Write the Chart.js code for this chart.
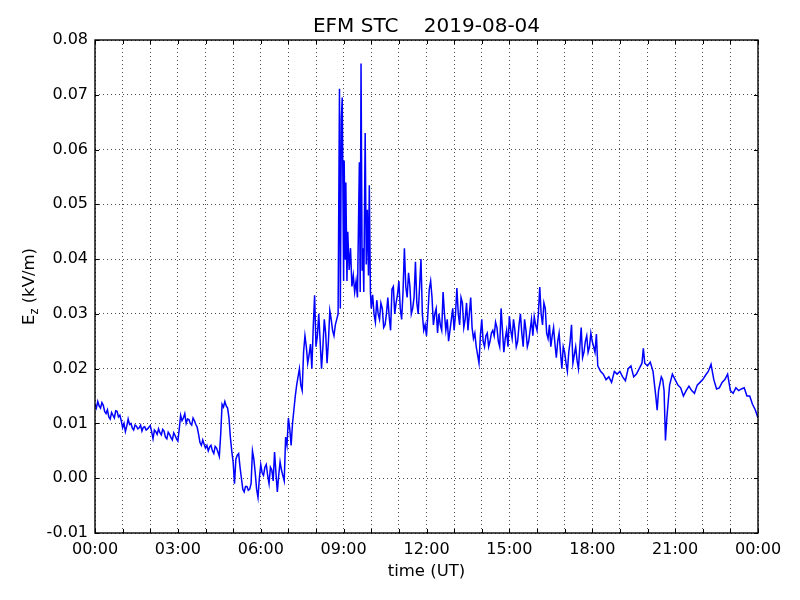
<!DOCTYPE html>
<html>
<head>
<meta charset="utf-8">
<script src="https://cdn.jsdelivr.net/npm/chart.js@4.4.0/dist/chart.umd.min.js"></script>
<style>
    html, body { margin: 0; padding: 0; background: #fff; }
</style>
</head>
<body>
<canvas id="grafico" width="800" height="600"></canvas>
<script>
// Dados (hora UT, Ez em kV/m), uma linha por hora
const horas = [
    0.0, 0.05, 0.1, 0.15, 0.2, 0.25, 0.3, 0.35, 0.4, 0.45, 0.5, 0.55, 0.6, 0.65, 0.7, 0.75, 0.8, 0.85, 0.9, 0.95,
    1.0, 1.05, 1.1, 1.15, 1.2, 1.25, 1.3, 1.35, 1.4, 1.45, 1.5, 1.55, 1.6, 1.65, 1.7, 1.75, 1.8, 1.85, 1.9, 1.95,
    2.0, 2.05, 2.1, 2.15, 2.2, 2.25, 2.3, 2.35, 2.4, 2.45, 2.5, 2.55, 2.6, 2.65, 2.7, 2.75, 2.8, 2.85, 2.9, 2.95,
    3.0, 3.05, 3.1, 3.15, 3.2, 3.25, 3.3, 3.35, 3.4, 3.45, 3.5, 3.55, 3.6, 3.65, 3.7, 3.75, 3.8, 3.85, 3.9, 3.95,
    4.0, 4.05, 4.1, 4.15, 4.2, 4.25, 4.3, 4.35, 4.4, 4.45, 4.5, 4.55, 4.6, 4.65, 4.7, 4.75, 4.8, 4.85, 4.9, 4.95,
    5.0, 5.05, 5.1, 5.15, 5.2, 5.25, 5.3, 5.35, 5.4, 5.45, 5.5, 5.55, 5.6, 5.65, 5.7, 5.75, 5.8, 5.85, 5.9, 5.95,
    6.0, 6.05, 6.1, 6.15, 6.2, 6.25, 6.3, 6.35, 6.4, 6.45, 6.5, 6.55, 6.6, 6.65, 6.7, 6.75, 6.8, 6.85, 6.9, 6.95,
    7.0, 7.05, 7.1, 7.15, 7.2, 7.25, 7.3, 7.35, 7.4, 7.45, 7.5, 7.55, 7.6, 7.65, 7.7, 7.75, 7.8, 7.85, 7.9, 7.95,
    8.0, 8.05, 8.1, 8.15, 8.2, 8.25, 8.3, 8.35, 8.4, 8.45, 8.5, 8.55, 8.6, 8.65, 8.7, 8.75, 8.8, 8.85, 8.88, 8.92, 8.95,
    9.0, 9.02, 9.06, 9.08, 9.12, 9.15, 9.2, 9.25, 9.3, 9.35, 9.4, 9.45, 9.5, 9.57, 9.6, 9.63, 9.67, 9.7, 9.73, 9.78, 9.82, 9.86, 9.9, 9.93, 9.97,
    10.0, 10.05, 10.1, 10.15, 10.2, 10.25, 10.3, 10.35, 10.4, 10.45, 10.5, 10.55, 10.6, 10.65, 10.7, 10.75, 10.8, 10.85, 10.9, 10.95,
    11.0, 11.05, 11.1, 11.15, 11.2, 11.25, 11.3, 11.35, 11.4, 11.45, 11.5, 11.55, 11.6, 11.65, 11.7, 11.75, 11.8, 11.85, 11.9, 11.95,
    12.0, 12.05, 12.1, 12.15, 12.2, 12.25, 12.3, 12.35, 12.4, 12.45, 12.5, 12.55, 12.6, 12.65, 12.7, 12.75, 12.8, 12.85, 12.9, 12.95,
    13.0, 13.05, 13.1, 13.15, 13.2, 13.25, 13.3, 13.35, 13.4, 13.45, 13.5, 13.55, 13.6, 13.65, 13.7, 13.75, 13.8, 13.85, 13.9, 13.95,
    14.0, 14.05, 14.1, 14.15, 14.2, 14.25, 14.3, 14.35, 14.4, 14.45, 14.5, 14.55, 14.6, 14.65, 14.7, 14.75, 14.8, 14.85, 14.9, 14.95,
    15.0, 15.05, 15.1, 15.15, 15.2, 15.25, 15.3, 15.35, 15.4, 15.45, 15.5, 15.55, 15.6, 15.65, 15.7, 15.75, 15.8, 15.85, 15.9, 15.95,
    16.0, 16.05, 16.1, 16.15, 16.2, 16.25, 16.3, 16.35, 16.4, 16.45, 16.5, 16.55, 16.6, 16.65, 16.7, 16.75, 16.8, 16.85, 16.9, 16.95,
    17.0, 17.05, 17.1, 17.15, 17.2, 17.25, 17.3, 17.35, 17.4, 17.45, 17.5, 17.55, 17.6, 17.65, 17.7, 17.75, 17.8, 17.85, 17.9, 17.95,
    18.0, 18.1, 18.15, 18.2, 18.3, 18.4, 18.5, 18.6, 18.7, 18.8, 18.9,
    19.0, 19.1, 19.2, 19.3, 19.4, 19.5, 19.6, 19.7, 19.8, 19.85, 19.9,
    20.0, 20.1, 20.2, 20.3, 20.35, 20.4, 20.5, 20.55, 20.6, 20.65, 20.7, 20.8, 20.9,
    21.0, 21.1, 21.2, 21.3, 21.4, 21.5, 21.6, 21.7, 21.8, 21.9,
    22.0, 22.1, 22.2, 22.3, 22.4, 22.5, 22.6, 22.7, 22.8, 22.9,
    23.0, 23.1, 23.2, 23.3, 23.4, 23.5, 23.6, 23.7, 23.8, 23.9, 24.0
];

const ez = [
    0.0135, 0.0128, 0.0140, 0.0132, 0.0128, 0.0138, 0.0133, 0.0122, 0.0118, 0.0125, 0.0112, 0.0108, 0.0120, 0.0115, 0.0110, 0.0123, 0.0122, 0.0112, 0.0115, 0.0105,
    0.0092, 0.0100, 0.0085, 0.0095, 0.0108, 0.0098, 0.0100, 0.0092, 0.0088, 0.0097, 0.0095, 0.0090, 0.0092, 0.0097, 0.0086, 0.0093, 0.0094, 0.0088, 0.0090, 0.0093,
    0.0096, 0.0085, 0.0072, 0.0088, 0.0085, 0.0080, 0.0090, 0.0083, 0.0079, 0.0089, 0.0086, 0.0075, 0.0072, 0.0084, 0.0080, 0.0074, 0.0070, 0.0083, 0.0078, 0.0072,
    0.0068, 0.0090, 0.0115, 0.0105, 0.0110, 0.0118, 0.0100, 0.0108, 0.0107, 0.0100, 0.0097, 0.0110, 0.0105, 0.0098, 0.0093, 0.0080, 0.0065, 0.0060, 0.0070, 0.0062,
    0.0055, 0.0060, 0.0050, 0.0057, 0.0060, 0.0050, 0.0045, 0.0058, 0.0055, 0.0048, 0.0040, 0.0080, 0.0135, 0.0130, 0.0140, 0.0132, 0.0128, 0.0110, 0.0075, 0.0050,
    0.0030, -0.0010, 0.0035, 0.0042, 0.0045, 0.0020, 0.0000, -0.0020, -0.0025, -0.0015, -0.0015, -0.0022, -0.0020, -0.0010, 0.0050, 0.0035, 0.0010, -0.0020, -0.0035, 0.0000,
    0.0025, 0.0010, 0.0005, 0.0020, 0.0025, 0.0005, -0.0010, 0.0020, 0.0015, -0.0005, 0.0048, 0.0010, -0.0025, 0.0005, 0.0030, 0.0015, 0.0005, -0.0005, 0.0075, 0.0060,
    0.0110, 0.0090, 0.0060, 0.0100, 0.0125, 0.0150, 0.0170, 0.0185, 0.0200, 0.0170, 0.0160, 0.0230, 0.0260, 0.0240, 0.0210, 0.0225, 0.0245, 0.0200, 0.0276, 0.0334,
    0.0240, 0.0260, 0.0300, 0.0250, 0.0200, 0.0240, 0.0290, 0.0265, 0.0210, 0.0250, 0.0306, 0.0290, 0.0270, 0.0260, 0.0280, 0.0290, 0.0300, 0.0711, 0.0310, 0.0660, 0.0695,
    0.0360, 0.0580, 0.0400, 0.0540, 0.0360, 0.0450, 0.0380, 0.0420, 0.0350, 0.0370, 0.0340, 0.0360, 0.0330, 0.0577, 0.0340, 0.0757, 0.0380, 0.0420, 0.0340, 0.0630, 0.0390, 0.0490, 0.0370, 0.0535, 0.0340,
    0.0310, 0.0335, 0.0300, 0.0285, 0.0325, 0.0300, 0.0290, 0.0320, 0.0310, 0.0275, 0.0280, 0.0300, 0.0330, 0.0295, 0.0270, 0.0345, 0.0350, 0.0300, 0.0320, 0.0335,
    0.0360, 0.0310, 0.0290, 0.0340, 0.0420, 0.0350, 0.0330, 0.0375, 0.0350, 0.0300, 0.0310, 0.0330, 0.0395, 0.0320, 0.0300, 0.0350, 0.0400, 0.0300, 0.0270, 0.0280,
    0.0260, 0.0300, 0.0345, 0.0360, 0.0330, 0.0280, 0.0300, 0.0310, 0.0265, 0.0300, 0.0280, 0.0270, 0.0340, 0.0300, 0.0270, 0.0290, 0.0250, 0.0270, 0.0290, 0.0310,
    0.0270, 0.0300, 0.0347, 0.0300, 0.0280, 0.0330, 0.0320, 0.0275, 0.0290, 0.0320, 0.0270, 0.0300, 0.0330, 0.0275, 0.0255, 0.0265, 0.0240, 0.0225, 0.0210, 0.0260,
    0.0290, 0.0250, 0.0240, 0.0260, 0.0265, 0.0240, 0.0250, 0.0265, 0.0270, 0.0260, 0.0285, 0.0275, 0.0250, 0.0240, 0.0310, 0.0270, 0.0230, 0.0255, 0.0270, 0.0240,
    0.0296, 0.0270, 0.0255, 0.0290, 0.0270, 0.0240, 0.0250, 0.0280, 0.0300, 0.0265, 0.0240, 0.0290, 0.0270, 0.0240, 0.0250, 0.0270, 0.0290, 0.0260, 0.0295, 0.0280,
    0.0270, 0.0300, 0.0349, 0.0300, 0.0280, 0.0320, 0.0310, 0.0265, 0.0255, 0.0280, 0.0240, 0.0260, 0.0275, 0.0245, 0.0220, 0.0250, 0.0265, 0.0230, 0.0200, 0.0240,
    0.0230, 0.0210, 0.0195, 0.0230, 0.0250, 0.0280, 0.0210, 0.0225, 0.0240, 0.0215, 0.0200, 0.0240, 0.0275, 0.0220, 0.0230, 0.0250, 0.0260, 0.0230, 0.0240, 0.0265,
    0.0250, 0.0230, 0.0263, 0.0205, 0.0195, 0.0190, 0.0180, 0.0185, 0.0175, 0.0195, 0.0190,
    0.0195, 0.0185, 0.0178, 0.0200, 0.0205, 0.0185, 0.0190, 0.0200, 0.0210, 0.0237, 0.0210,
    0.0205, 0.0212, 0.0195, 0.0150, 0.0124, 0.0160, 0.0185, 0.0180, 0.0160, 0.0069, 0.0110, 0.0170, 0.0190,
    0.0180, 0.0170, 0.0165, 0.0150, 0.0160, 0.0168, 0.0160, 0.0155, 0.0170, 0.0175,
    0.0180, 0.0188, 0.0195, 0.0208, 0.0180, 0.0163, 0.0165, 0.0175, 0.0180, 0.0190,
    0.0160, 0.0155, 0.0165, 0.0160, 0.0163, 0.0165, 0.0150, 0.0150, 0.0135, 0.0125, 0.0110
];

const rotulosX = ['00:00', '03:00', '06:00', '09:00', '12:00', '15:00', '18:00', '21:00', '00:00'];

const FONTE = 'DejaVu Sans';

// Moldura, marcas internas e títulos no estilo matplotlib
const molduraPlugin = {
    id: 'moldura',
    afterDraw(chart) {
        const { ctx, chartArea: a, scales } = chart;
        ctx.save();
        ctx.strokeStyle = '#000';
        ctx.lineWidth = 1;
        ctx.beginPath();
        for (let h = 0; h <= 24; h++) {
            const px = Math.round(scales.x.getPixelForValue(h)) + 0.5;
            ctx.moveTo(px, a.bottom); ctx.lineTo(px, a.bottom - 4);
            ctx.moveTo(px, a.top); ctx.lineTo(px, a.top + 4);
        }
        for (let i = 0; i <= 9; i++) {
            const py = Math.round(scales.y.getPixelForValue(-0.01 + i * 0.01)) + 0.5;
            ctx.moveTo(a.left, py); ctx.lineTo(a.left + 4, py);
            ctx.moveTo(a.right, py); ctx.lineTo(a.right - 4, py);
        }
        ctx.stroke();

        ctx.lineWidth = 1.4;
        ctx.strokeRect(a.left, a.top, a.right - a.left, a.bottom - a.top);

        ctx.fillStyle = '#000';
        ctx.textAlign = 'center';
        ctx.textBaseline = 'middle';
        ctx.font = `20px "${FONTE}"`;
        ctx.fillText('EFM STC    2019-08-04', (a.left + a.right) / 2, 27);

        ctx.font = `16.5px "${FONTE}"`;
        ctx.fillText('time (UT)', (a.left + a.right) / 2, 572);

        // rótulo do eixo y com subscrito
        ctx.translate(28, (a.top + a.bottom) / 2);
        ctx.rotate(-Math.PI / 2);
        const fGrande = `16.5px "${FONTE}"`;
        const fPequena = `11.5px "${FONTE}"`;
        ctx.font = fGrande;
        const wE = ctx.measureText('E').width;
        const wResto = ctx.measureText(' (kV/m)').width;
        ctx.font = fPequena;
        const wZ = ctx.measureText('z').width;
        let x0 = -(wE + wZ + wResto) / 2;
        ctx.textAlign = 'left';
        ctx.textBaseline = 'alphabetic';
        ctx.font = fGrande;
        ctx.fillText('E', x0, 6);
        ctx.font = fPequena;
        ctx.fillText('z', x0 + wE, 9.5);
        ctx.font = fGrande;
        ctx.fillText(' (kV/m)', x0 + wE + wZ, 6);
        ctx.restore();
    }
};

const ctx = document.getElementById('grafico').getContext('2d');

new Chart(ctx, {
    type: 'line',
    data: {
        datasets: [{
            label: 'Ez',
            data: horas.map((h, i) => ({ x: h, y: ez[i] })),
            borderColor: '#0000ff',
            borderWidth: 1.5,
            pointRadius: 0,
            tension: 0,
            fill: false
        }]
    },
    options: {
        responsive: false,
        animation: false,
        devicePixelRatio: 1,
        layout: { padding: { top: 40, right: 42, bottom: 0, left: 0 } },
        plugins: {
            legend: { display: false },
            tooltip: { enabled: false },
            title: { display: false }
        },
        scales: {
            x: {
                type: 'linear',
                min: 0,
                max: 24,
                afterFit: (s) => { s.height = 67; },
                ticks: {
                    stepSize: 1,
                    autoSkip: false,
                    maxRotation: 0,
                    padding: 7,
                    color: '#000',
                    font: { family: FONTE, size: 16 },
                    callback: (v) => (v % 3 === 0 ? rotulosX[v / 3] : '')
                },
                grid: { color: '#000', lineWidth: 0.7, drawTicks: false },
                border: { display: false, dash: [1, 3] }
            },
            y: {
                min: -0.01,
                max: 0.08,
                afterFit: (s) => { s.width = 95; },
                ticks: {
                    stepSize: 0.01,
                    padding: 7,
                    color: '#000',
                    font: { family: FONTE, size: 16 },
                    callback: (v) => (Math.abs(v) < 1e-9 ? '0.00' : v.toFixed(2))
                },
                grid: { color: '#000', lineWidth: 0.7, drawTicks: false },
                border: { display: false, dash: [1, 3] }
            }
        }
    },
    plugins: [molduraPlugin]
});
</script>
</body>
</html>
